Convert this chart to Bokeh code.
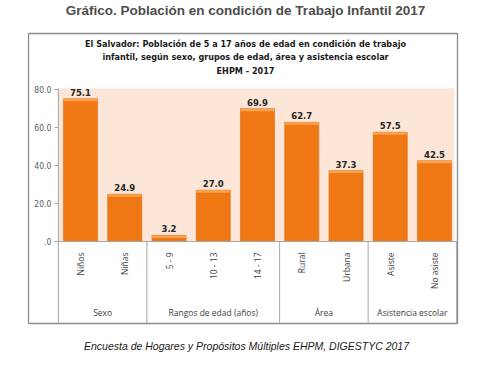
from bokeh.plotting import figure
from bokeh.models import Range1d, ColumnDataSource
from bokeh.core.properties import value
from bokeh.embed import file_html
from bokeh.resources import INLINE
import math

# ---- data ----
categories = ["Niños", "Niñas", "5 - 9", "10 - 13", "14 - 17", "Rural", "Urbana", "Asiste", "No asiste"]
values = [75.1, 24.9, 3.2, 27.0, 69.9, 62.7, 37.3, 57.5, 42.5]
value_labels = ["75.1", "24.9", "3.2", "27.0", "69.9", "62.7", "37.3", "57.5", "42.5"]
groups = ["Sexo", "Rangos de edad (años)", "Área", "Asistencia escolar"]
group_sizes = [2, 3, 2, 2]
y_ticks = [0, 20, 40, 60, 80]
y_tick_labels = [".0", "20.0", "40.0", "60.0", "80.0"]

title = "Gráfico. Población en condición de Trabajo Infantil 2017"
subtitle = ["El Salvador: Población de 5 a 17 años de edad en condición de trabajo",
            "infantil, según sexo, grupos de edad, área y asistencia escolar",
            "EHPM - 2017"]
caption = "Encuesta de Hogares y Propósitos Múltiples EHPM, DIGESTYC 2017"

# ---- layout (data-space geometry) ----
W, H = 480, 354
PX = 44.25   # pixels per category
PY = 1.9     # pixels per unit of value
X0_PX, Y0_PX = 80, 241   # pixel position of category 0 / value 0

x_range = Range1d(-X0_PX / PX, (W - X0_PX) / PX)
y_range = Range1d(-(H - Y0_PX) / PY, Y0_PX / PY)

def dx(px):
    return (px - X0_PX) / PX

def dy(py):
    return (Y0_PX - py) / PY

NARROW = "DejaVu Sans Condensed, Liberation Sans Narrow, Roboto, sans-serif"

p = figure(width=W, height=H, x_range=x_range, y_range=y_range,
           output_backend="svg", toolbar_location=None,
           x_axis_type=None, y_axis_type=None, min_border=0)
p.outline_line_color = None
p.grid.visible = False
p.background_fill_color = "white"
p.border_fill_color = "white"

n = len(categories)
xs = list(range(n))
left_edge, right_edge = -0.5, n - 0.5

# outer box
box_l, box_r = dx(28), dx(457)
box_t, box_b = dy(33), dy(323)
p.quad(left=[box_l], right=[box_r], top=[box_t], bottom=[box_b],
       fill_color=None, line_color="#8c8c8c", line_width=1.3)

# plot background
p.quad(left=[left_edge], right=[right_edge - 0.05], top=[80.5], bottom=[0],
       fill_color="#fce6d8", line_color=None)

# bars
src = ColumnDataSource(dict(x=xs, top=values, cap=[v - 1.3 for v in values], lab=value_labels))
p.vbar(x="x", top="top", bottom=0, width=0.77, source=src,
       fill_color="#f07814", line_color="#e06a0c", line_width=0.6)
p.vbar(x="x", top="top", bottom="cap", width=0.77, source=src,
       fill_color="#f8a352", line_color=None)
p.text(x="x", y="top", text="lab", source=src, text_align="center",
       text_baseline="bottom", y_offset=-3, text_font=value(NARROW),
       text_font_style="bold", text_font_size="9.5px", text_color="#262626")

# baseline and y axis
p.segment(x0=[left_edge], y0=[0], x1=[right_edge], y1=[0], line_color="#a6a6a6", line_width=1)
p.segment(x0=[left_edge], y0=[y_ticks[-1] + 0.5], x1=[left_edge], y1=[box_b],
          line_color="#a6a6a6", line_width=1)
p.segment(x0=[left_edge - 4 / PX] * len(y_ticks), y0=y_ticks,
          x1=[left_edge] * len(y_ticks), y1=y_ticks, line_color="#a6a6a6", line_width=1)
p.text(x=[left_edge] * len(y_ticks), y=y_ticks, text=y_tick_labels, x_offset=-7,
       text_align="right", text_baseline="middle", text_font=value(NARROW),
       text_font_size="8.5px", text_color="#595959")

# group separators and labels
bounds = [left_edge]
for s in group_sizes:
    bounds.append(bounds[-1] + s)
p.segment(x0=bounds[1:], y0=[0] * (len(bounds) - 1), x1=bounds[1:], y1=[box_b] * (len(bounds) - 1),
          line_color="#a6a6a6", line_width=1)
centers = [(bounds[i] + bounds[i + 1]) / 2 for i in range(len(groups))]
p.text(x=centers, y=[0] * len(groups), text=groups, y_offset=71,
       text_align="center", text_baseline="middle", text_font=value("Open Sans"),
       text_font_size="8.5px", text_color="#404040")

# category labels (rotated)
p.text(x=xs, y=[0] * n, text=categories, y_offset=11, angle=math.pi / 2,
       text_align="right", text_baseline="middle", text_font=value("Open Sans"),
       text_font_size="8.5px", text_color="#404040")

# inner subtitle
cx = dx(245)
p.text(x=[cx] * 3, y=[dy(43), dy(56.5), dy(70)], text=subtitle,
       text_align="center", text_baseline="middle", text_font=value(NARROW),
       text_font_style="bold", text_font_size="9px", text_color="#1a1a1a")

# main title and caption
p.text(x=[dx(245)], y=[dy(10)], text=[title], text_align="center", text_baseline="middle",
       text_font=value("Liberation Sans"), text_font_style="bold", text_font_size="13.5px",
       text_color="#4d4d4d")
p.text(x=[dx(246)], y=[dy(345)], text=[caption], text_align="center", text_baseline="middle",
       text_font=value("Liberation Sans"), text_font_style="italic", text_font_size="10.5px",
       text_color="#1a1a1a")

open("out.html", "w").write(file_html(p, INLINE))
